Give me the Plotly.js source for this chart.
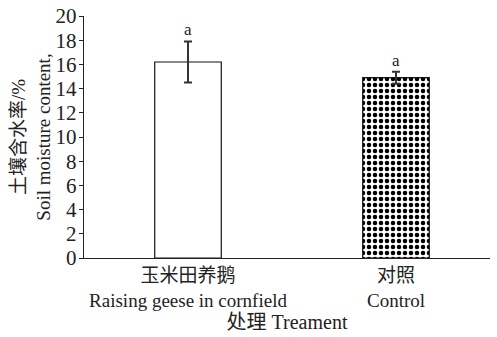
<!DOCTYPE html>
<html><head><meta charset="utf-8">
<script src="https://cdn.plot.ly/plotly-3.0.1.min.js"></script>
<style>html,body{margin:0;padding:0;background:#fff}</style>
</head><body>
<div id="chart" style="width:497px;height:337px"></div>
<script>
var categories = ["玉米田养鹅<br>Raising geese in cornfield", "对照<br>Control"];
var moisture = [16.2, 14.9];
var errors = [1.7, 0.5];
var letters = ["a", "a"];
var patterns = ["", "."];
var yTicks = [0,2,4,6,8,10,12,14,16,18,20];

var FONT = "Liberation Serif, 'Noto Sans CJK SC', serif";

var traces = categories.map(function(c, i){
  return {
    type: "bar",
    x: [c],
    y: [moisture[i]],
    width: 0.32,
    marker: {
      color: "#ffffff",
      line: {color: "#111", width: 1.2},
      pattern: {shape: patterns[i], fgcolor: "#000", bgcolor: "#ffffff", size: 6, solidity: 0.45}
    },
    error_y: {type: "data", array: [errors[i]], visible: true, color: "#333", thickness: 2, width: 4},
    hoverinfo: "none"
  };
});

var annotations = categories.map(function(c, i){
  return {x: c, y: moisture[i] + errors[i], xref: "x", yref: "y", text: letters[i],
    showarrow: false, yanchor: "bottom", yshift: 0, font: {family: FONT, size: 17, color: "#222"}};
});

var layout = {
  width: 497, height: 337,
  margin: {l: 84, r: 7, t: 16, b: 79},
  paper_bgcolor: "#fff", plot_bgcolor: "#fff",
  showlegend: false, barmode: "overlay",
  font: {family: FONT, color: "#222"},
  xaxis: {
    range: [-0.5, 1.452],
    showline: true, linecolor: "#222", linewidth: 1.2,
    ticks: "", showgrid: false, zeroline: false,
    tickfont: {family: FONT, size: 19, color: "#222"},
    title: {text: "处理 Treament", font: {family: FONT, size: 20, color: "#222"}, standoff: 0}
  },
  yaxis: {
    range: [0, 20], tickvals: yTicks, automargin: "left",
    showline: true, linecolor: "#222", linewidth: 1.2,
    ticks: "outside", ticklen: 4, tickcolor: "#222", ticklabelstandoff: -2,
    showgrid: false, zeroline: false,
    tickfont: {family: FONT, size: 21, color: "#222"},
    title: {text: "土壤含水率/%<br>Soil moisture content,", font: {family: FONT, size: 19, color: "#222"}, standoff: 0}
  },
  annotations: annotations
};

Plotly.newPlot("chart", traces, layout, {staticPlot: true, displayModeBar: false});
</script>
</body></html>
